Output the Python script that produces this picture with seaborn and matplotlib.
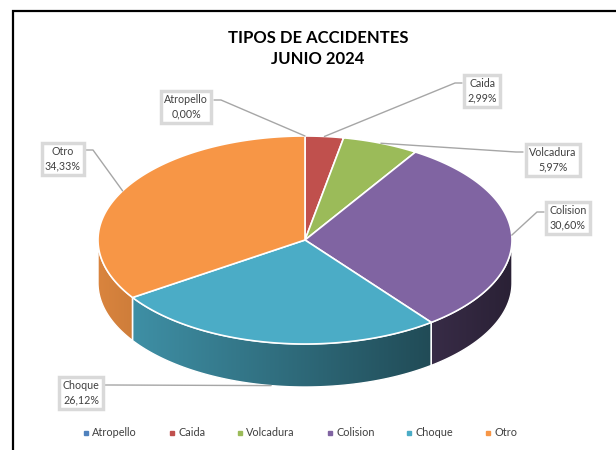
import numpy as np
import matplotlib
matplotlib.use("Agg")
import matplotlib.pyplot as plt
from matplotlib.patches import Polygon
from matplotlib.lines import Line2D
from matplotlib.colors import to_rgb
import seaborn as sns

# ─── DATA ─────────────────────────────────────────────────────────────────────
CATEGORIES = ['Atropello', 'Caida', 'Volcadura', 'Colision', 'Choque', 'Otro']
PERCENTS   = [0.00, 2.99, 5.97, 30.60, 26.12, 34.33]
COLORS     = ['#4F81BD', '#C0504D', '#9BBB59', '#8064A2', '#4BACC6', '#F79646']
TITLE      = 'TIPOS DE ACCIDENTES\nJUNIO 2024'

# ─── LAYOUT (pixel space, y down) ─────────────────────────────────────────────
CX, CY, RX, RY, DEPTH = 305, 240, 207, 104, 43
# label box centre, leader attach point on the box edge, direction of the stub
LABELS = {
    'Atropello': ((186, 107), (214, 100), +1),
    'Caida':     ((482, 91),  (462, 83),  -1),
    'Volcadura': ((553, 160), (523, 152), -1),
    'Colision':  ((568, 218), (544, 212), -1),
    'Choque':    ((81, 393),  (104, 385), +1),
    'Otro':      ((63, 159),  (86, 150),  +1),
}
TEXT_GREY = '#404040'
LINE_GREY = '#A6A6A6'

sns.set_theme(style='white')
plt.rcParams['font.family'] = ['Lato', 'DejaVu Sans']


def rim(theta):
    return CX + RX * np.sin(theta), CY - RY * np.cos(theta)


fig = plt.figure(figsize=(6.16, 4.5), dpi=100)
ax = fig.add_axes([0, 0, 1, 1])
ax.set_xlim(0, 616)
ax.set_ylim(450, 0)
ax.axis('off')

# chart frame (clipped by the picture on the right and bottom)
ax.plot([13, 13, 640], [470, 11, 11], color='black', lw=1.6, solid_joinstyle='miter')

vals = np.array(PERCENTS, dtype=float)
edges = np.concatenate([[0], np.cumsum(vals)]) / vals.sum() * 2 * np.pi

# ─── SIDE WALLS ───────────────────────────────────────────────────────────────
shade = np.linspace(0.88, 0.33, 256)
for i, col in enumerate(COLORS):
    lo, hi = max(edges[i], np.pi / 2), min(edges[i + 1], 1.5 * np.pi)
    if hi <= lo:
        continue
    t = np.linspace(lo, hi, 80)
    x, y = rim(t)
    pts = np.column_stack([np.r_[x, x[::-1]], np.r_[y, y[::-1] + DEPTH]])
    poly = Polygon(pts, closed=True, fc='none', ec='none')
    ax.add_patch(poly)
    grad = np.array(to_rgb(col))[None, None, :] * shade[None, :, None]
    im = ax.imshow(grad, extent=(CX - RX, CX + RX, CY + RY + DEPTH, CY - RY),
                   aspect='auto', interpolation='bilinear', zorder=1)
    im.set_clip_path(poly)
    ax.add_patch(Polygon(pts, closed=True, fc='none', ec='white', lw=1.0, zorder=2))

# ─── TOP FACE ─────────────────────────────────────────────────────────────────
for i, col in enumerate(COLORS):
    if edges[i + 1] - edges[i] <= 0:
        continue
    t = np.linspace(edges[i], edges[i + 1], 120)
    x, y = rim(t)
    pts = np.column_stack([np.r_[CX, x], np.r_[CY, y]])
    ax.add_patch(Polygon(pts, closed=True, fc=col, ec='white', lw=1.2, zorder=3))

# ─── DATA LABELS + LEADERS ────────────────────────────────────────────────────
for i, name in enumerate(CATEGORIES):
    (tx, ty), (ax0, ay0), d = LABELS[name]
    mid = (edges[i] + edges[i + 1]) / 2
    mx, my = rim(mid)
    if np.cos(mid) < 0:
        my += DEPTH
    ax.plot([ax0, ax0 + 7 * d, mx], [ay0, ay0, my], color=LINE_GREY, lw=1.0, zorder=4)
    ax.text(tx, ty, f'{name}\n{PERCENTS[i]:.2f}%'.replace('.', ','),
            ha='center', va='center', fontsize=7.7, color=TEXT_GREY, linespacing=1.4,
            zorder=5,
            bbox=dict(boxstyle='square,pad=0.3', fc='white', ec='#D9D9D9', lw=2.5))

# ─── TITLE ────────────────────────────────────────────────────────────────────
ax.text(318, 48.5, TITLE, ha='center', va='center', fontsize=12,
        fontweight='bold', color='black', linespacing=1.45)

# ─── LEGEND ───────────────────────────────────────────────────────────────────
handles = [Line2D([], [], marker='s', ls='', color=c, markersize=3) for c in COLORS]
ax.legend(handles, CATEGORIES, loc='center', bbox_to_anchor=(300 / 616, 1 - 433 / 450),
          ncol=6, frameon=False, fontsize=7.8, handletextpad=0.3, columnspacing=2.9,
          handlelength=0.6, labelcolor=TEXT_GREY)

fig.savefig('out.png', dpi=100)
